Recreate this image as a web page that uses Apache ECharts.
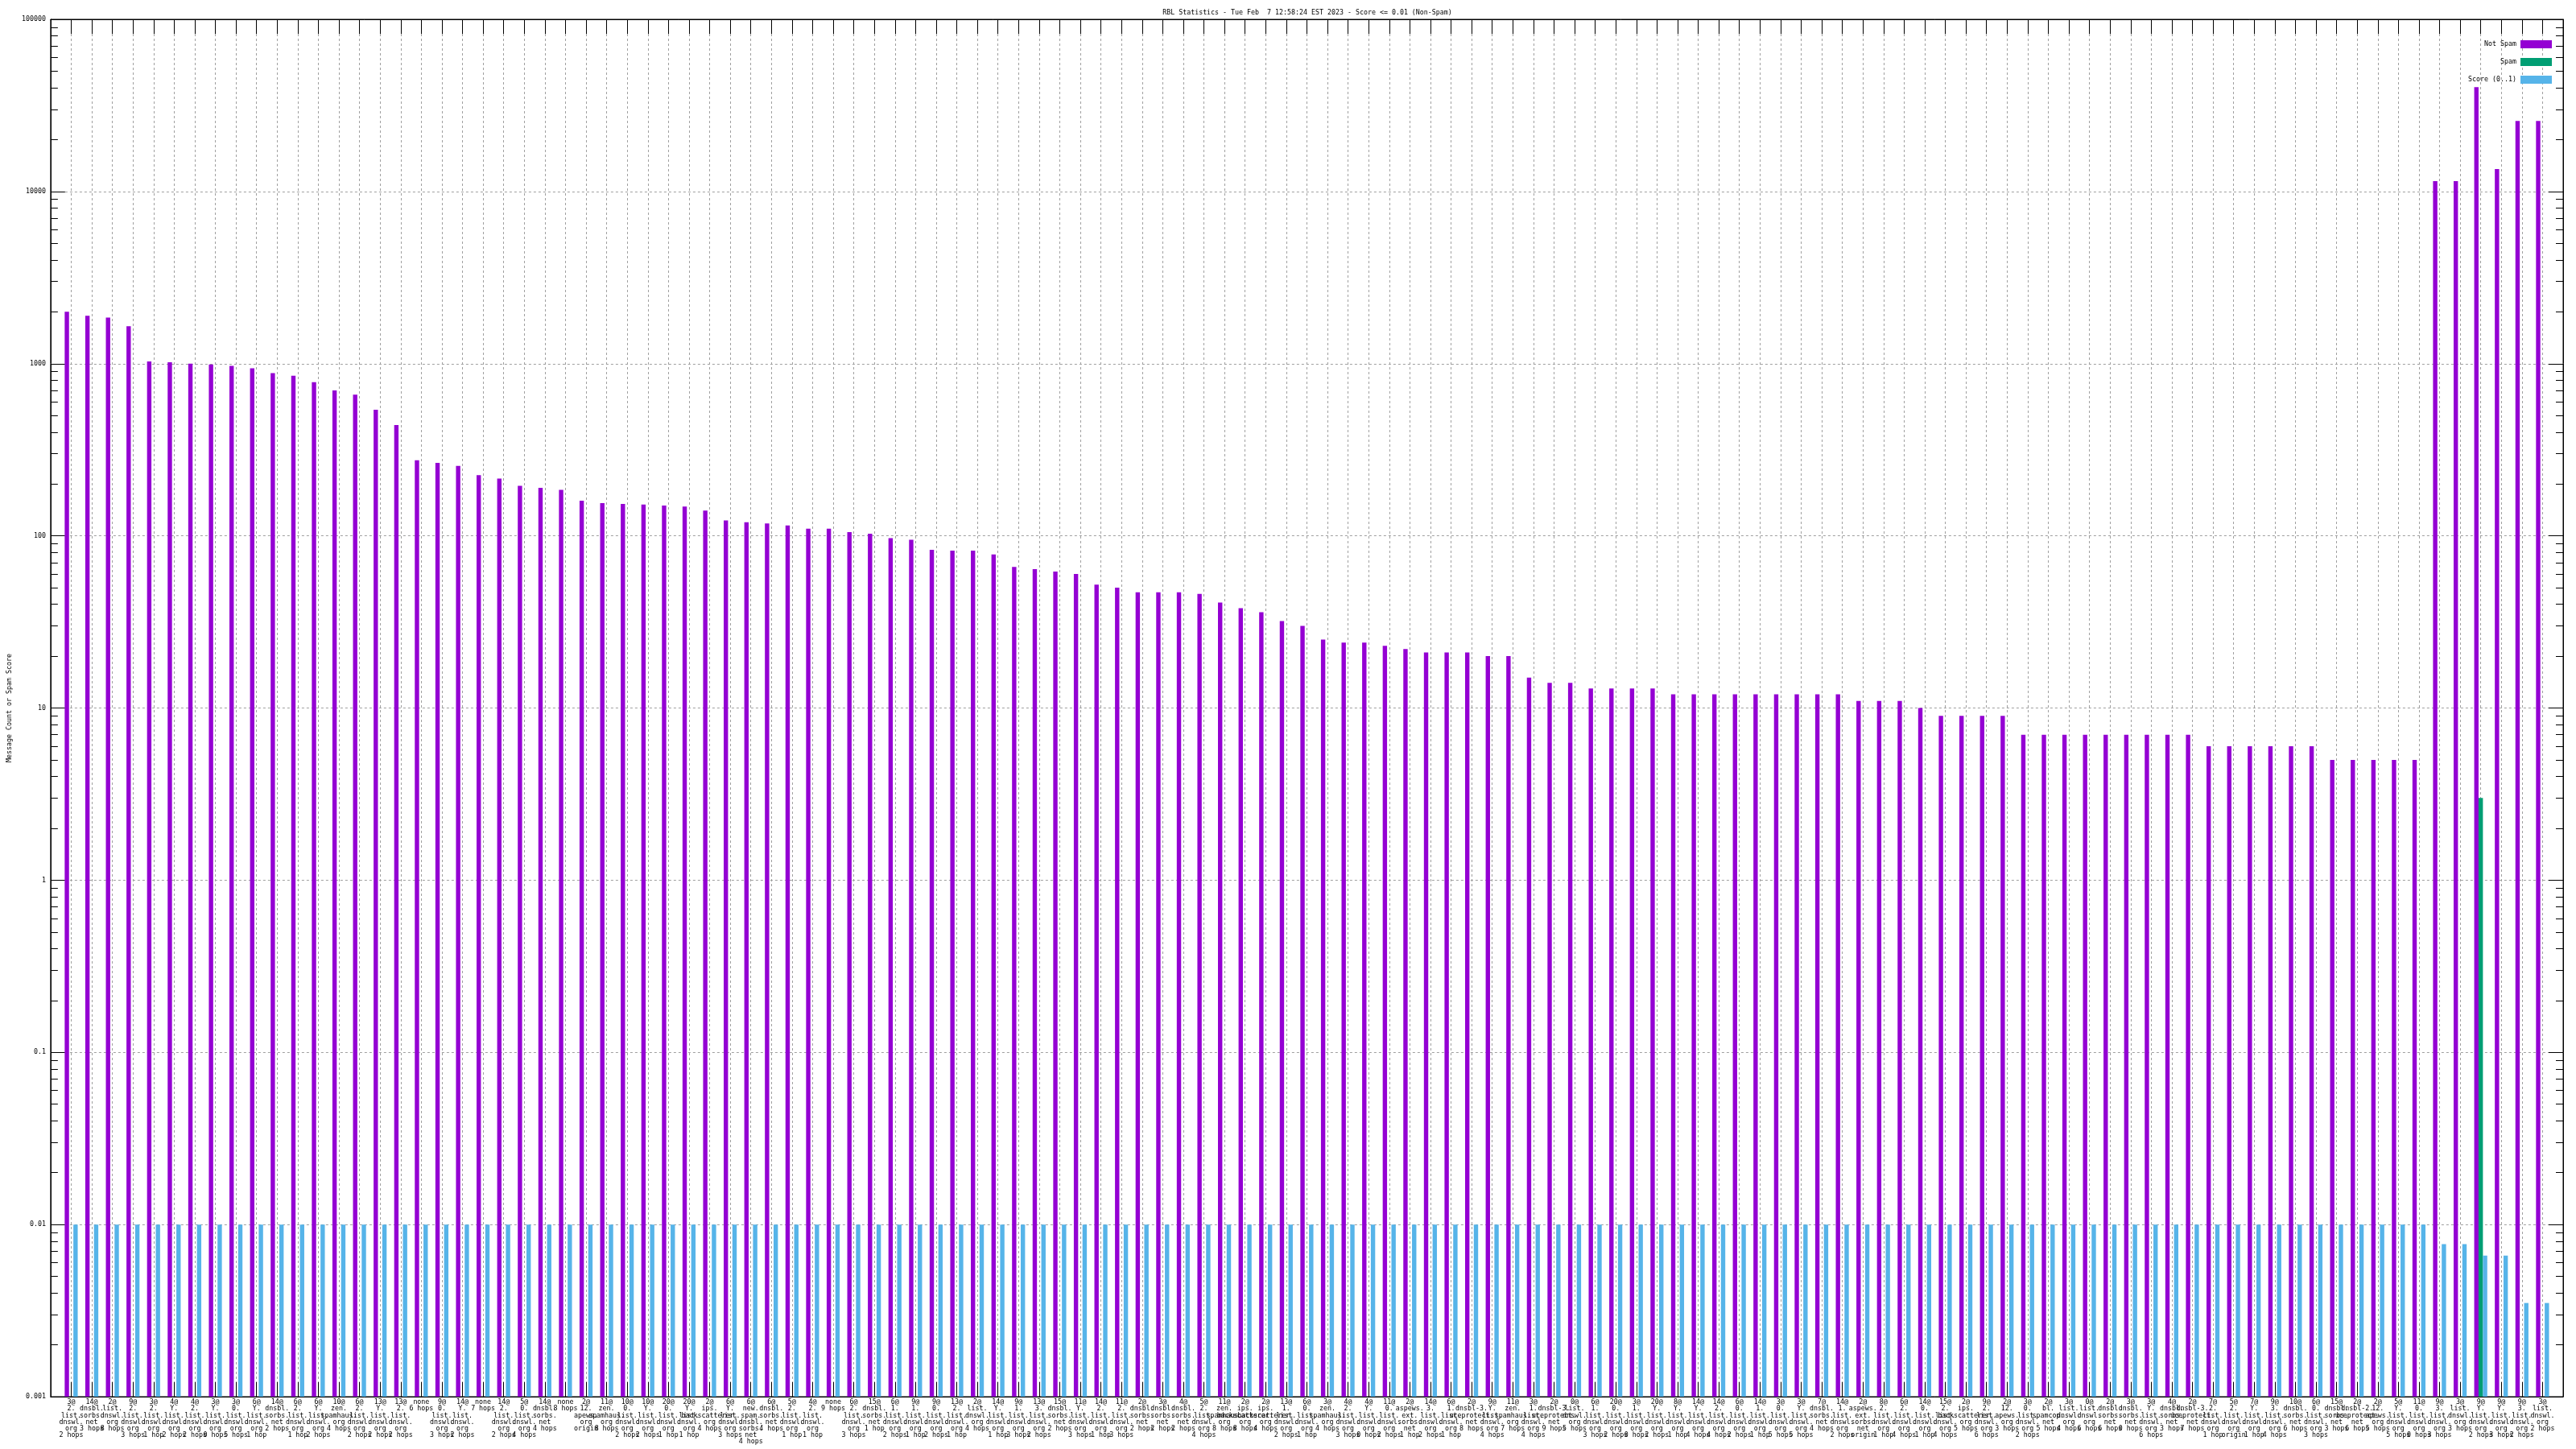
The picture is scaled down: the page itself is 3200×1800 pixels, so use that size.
<!DOCTYPE html>
<html>
<head>
<meta charset="utf-8">
<script src="https://cdn.jsdelivr.net/npm/echarts@6/dist/echarts.min.js"></script>
<style>html,body{margin:0;padding:0;background:#fff}#c{width:3200px;height:1800px}</style>
</head>
<body>
<div id="c"></div>
<script>
const titleText = 'RBL Statistics - Tue Feb  7 12:58:24 EST 2023 - Score <= 0.01 (Non-Spam)';
const yAxisName = 'Message Count or Spam Score';
const yTickLabels = ['0.001', '0.01', '0.1', '1', '10', '100', '1000', '10000', '100000'];
const seriesNames = ['Not Spam', 'Spam', 'Score (0..1)'];

const categories = [
"3@\n2.\nlist.\ndnswl.\norg\n2 hops","14@\ndnsbl.\nsorbs.\nnet\n3 hops","2@\nlist.\ndnswl.\norg\n8 hops","9@\n2.\nlist.\ndnswl.\norg\n3 hops","3@\n2.\nlist.\ndnswl.\norg\n1 hop",
"4@\nY.\nlist.\ndnswl.\norg\n2 hops","4@\n2.\nlist.\ndnswl.\norg\n2 hops","3@\nY.\nlist.\ndnswl.\norg\n0 hops","3@\n0.\nlist.\ndnswl.\norg\n5 hops","6@\nY.\nlist.\ndnswl.\norg\n1 hop",
"14@\ndnsbl.\nsorbs.\nnet\n2 hops","6@\n2.\nlist.\ndnswl.\norg\n1 hop","6@\nY.\nlist.\ndnswl.\norg\n2 hops","10@\nzen.\nspamhaus.\norg\n4 hops","6@\n2.\nlist.\ndnswl.\norg\n2 hops",
"13@\nY.\nlist.\ndnswl.\norg\n2 hops","13@\n2.\nlist.\ndnswl.\norg\n2 hops","none\n6 hops","9@\n0.\nlist.\ndnswl.\norg\n3 hops","14@\nY.\nlist.\ndnswl.\norg\n2 hops",
"none\n7 hops","14@\n2.\nlist.\ndnswl.\norg\n2 hops","5@\n0.\nlist.\ndnswl.\norg\n4 hops","14@\ndnsbl.\nsorbs.\nnet\n4 hops","none\n8 hops",
"2@\n12.\napews.\norg\norigin","11@\nzen.\nspamhaus.\norg\n8 hops","10@\n0.\nlist.\ndnswl.\norg\n2 hops","10@\nY.\nlist.\ndnswl.\norg\n2 hops","20@\n0.\nlist.\ndnswl.\norg\n1 hop",
"20@\nY.\nlist.\ndnswl.\norg\n1 hop","2@\nips.\nbackscatterer.\norg\n4 hops","6@\nY.\nlist.\ndnswl.\norg\n3 hops","6@\nnew.\nspam.\ndnsbl.\nsorbs.\nnet\n4 hops","6@\ndnsbl.\nsorbs.\nnet\n4 hops",
"5@\n2.\nlist.\ndnswl.\norg\n1 hop","4@\n2.\nlist.\ndnswl.\norg\n1 hop","none\n9 hops","6@\n2.\nlist.\ndnswl.\norg\n3 hops","15@\ndnsbl.\nsorbs.\nnet\n1 hop",
"6@\n1.\nlist.\ndnswl.\norg\n2 hops","9@\n1.\nlist.\ndnswl.\norg\n1 hop","9@\n0.\nlist.\ndnswl.\norg\n2 hops","13@\n2.\nlist.\ndnswl.\norg\n1 hop","2@\nlist.\ndnswl.\norg\n4 hops",
"14@\nY.\nlist.\ndnswl.\norg\n1 hop","9@\n1.\nlist.\ndnswl.\norg\n3 hops","13@\n3.\nlist.\ndnswl.\norg\n2 hops","15@\ndnsbl.\nsorbs.\nnet\n2 hops","11@\nY.\nlist.\ndnswl.\norg\n3 hops",
"14@\n2.\nlist.\ndnswl.\norg\n1 hop","11@\n2.\nlist.\ndnswl.\norg\n3 hops","2@\ndnsbl.\nsorbs.\nnet\n2 hops","3@\ndnsbl.\nsorbs.\nnet\n2 hops","4@\ndnsbl.\nsorbs.\nnet\n2 hops",
"5@\n2.\nlist.\ndnswl.\norg\n4 hops","11@\nzen.\nspamhaus.\norg\n8 hops","2@\nips.\nbackscatterer.\norg\n8 hops","2@\nips.\nbackscatterer.\norg\n4 hops","13@\n1.\nlist.\ndnswl.\norg\n2 hops",
"6@\n0.\nlist.\ndnswl.\norg\n1 hop","3@\nzen.\nspamhaus.\norg\n4 hops","4@\n2.\nlist.\ndnswl.\norg\n3 hops","4@\nY.\nlist.\ndnswl.\norg\n0 hops","11@\n0.\nlist.\ndnswl.\norg\n2 hops",
"2@\naspews.\next.\nsorbs.\nnet\n1 hop","14@\n3.\nlist.\ndnswl.\norg\n2 hops","6@\n1.\nlist.\ndnswl.\norg\n1 hop","2@\ndnsbl-3.\nuceprotect.\nnet\n8 hops","9@\nY.\nlist.\ndnswl.\norg\n4 hops",
"11@\nzen.\nspamhaus.\norg\n7 hops","3@\n1.\nlist.\ndnswl.\norg\n4 hops","2@\ndnsbl-3.\nuceprotect.\nnet\n9 hops","0@\nlist.\ndnswl.\norg\n5 hops","6@\n1.\nlist.\ndnswl.\norg\n3 hops",
"20@\n0.\nlist.\ndnswl.\norg\n2 hops","3@\n1.\nlist.\ndnswl.\norg\n0 hops","20@\nY.\nlist.\ndnswl.\norg\n2 hops","8@\nY.\nlist.\ndnswl.\norg\n1 hop","14@\nY.\nlist.\ndnswl.\norg\n4 hops",
"14@\n2.\nlist.\ndnswl.\norg\n4 hops","6@\n0.\nlist.\ndnswl.\norg\n2 hops","14@\n1.\nlist.\ndnswl.\norg\n1 hop","3@\n0.\nlist.\ndnswl.\norg\n5 hops","3@\nY.\nlist.\ndnswl.\norg\n5 hops",
"7@\ndnsbl.\nsorbs.\nnet\n4 hops","14@\n1.\nlist.\ndnswl.\norg\n2 hops","2@\naspews.\next.\nsorbs.\nnet\norigin","8@\n2.\nlist.\ndnswl.\norg\n1 hop","6@\n2.\nlist.\ndnswl.\norg\n4 hops",
"14@\n0.\nlist.\ndnswl.\norg\n1 hop","15@\n2.\nlist.\ndnswl.\norg\n4 hops","2@\nips.\nbackscatterer.\norg\n5 hops","9@\n2.\nlist.\ndnswl.\norg\n6 hops","2@\n12.\napews.\norg\n3 hops",
"3@\n0.\nlist.\ndnswl.\norg\n2 hops","2@\nbl.\nspamcop.\nnet\n5 hops","3@\nlist.\ndnswl.\norg\n4 hops","0@\nlist.\ndnswl.\norg\n6 hops","2@\ndnsbl.\nsorbs.\nnet\n6 hops",
"3@\ndnsbl.\nsorbs.\nnet\n0 hops","3@\nY.\nlist.\ndnswl.\norg\n6 hops","4@\ndnsbl.\nsorbs.\nnet\n3 hops","2@\ndnsbl-3.\nuceprotect.\nnet\n7 hops","7@\n2.\nlist.\ndnswl.\norg\n1 hop",
"5@\n2.\nlist.\ndnswl.\norg\norigin","7@\nY.\nlist.\ndnswl.\norg\n1 hop","9@\n3.\nlist.\ndnswl.\norg\n4 hops","10@\ndnsbl.\nsorbs.\nnet\n6 hops","6@\n0.\nlist.\ndnswl.\norg\n3 hops",
"15@\ndnsbl.\nsorbs.\nnet\n3 hops","2@\ndnsbl-2.\nuceprotect.\nnet\n6 hops","2@\n12.\napews.\norg\n5 hops","5@\nY.\nlist.\ndnswl.\norg\n5 hops","11@\n0.\nlist.\ndnswl.\norg\n0 hops",
"9@\n3.\nlist.\ndnswl.\norg\n3 hops","3@\nlist.\ndnswl.\norg\n3 hops","9@\nY.\nlist.\ndnswl.\norg\n2 hops","9@\nY.\nlist.\ndnswl.\norg\n3 hops","9@\n3.\nlist.\ndnswl.\norg\n2 hops",
"3@\nlist.\ndnswl.\norg\n2 hops"
];

const notSpam = [
2000,1900,1850,1650,1030,1020,1000,990,970,940,880,850,780,700,660,540,440,
275,265,255,225,215,195,190,185,160,155,153,152,150,148,140,123,120,118,115,110,110,105,103,
97,95,83,82,82,78,66,64,62,60,52,50,47,47,47,46,41,38,36,32,30,25,24,24,23,22,21,21,21,20,20,
15,14,14,13,13,13,13,
12,12,12,12,12,12,12,12,12,
11,11,11,
10,
9,9,9,9,
7,7,7,7,7,7,7,7,7,
6,6,6,6,6,6,
5,5,5,5,5,
11500,11500,40400,13500,25700,25700
];

const spam = [];
for (let i = 0; i < 121; i++) spam.push(null);
spam[117] = 3;

const score = [];
for (let i = 0; i < 115; i++) score.push(0.01);
score.push(0.0077, 0.0077, 0.0066, 0.0066, 0.0035, 0.0035);

// ----- build padded data for the chart (xrange -1 .. n) -----
const LOGMIN = -3;
function toAxis(v) { return (v == null || v <= 0) ? '-' : Math.log10(v) - LOGMIN; }
function pad(arr) { return ['-'].concat(arr.map(toAxis), ['-']); }
const cats = [''].concat(categories, ['']);

const FONT = 'DejaVu Sans Mono';
const FS = 8.3;
const GRIDCOL = '#a0a0a0';

const chart = echarts.init(document.getElementById('c'), null, {renderer: 'canvas'});
chart.setOption({
  animation: false,
  backgroundColor: '#ffffff',
  title: {
    text: titleText, left: 1619, top: 7, textAlign: 'center',
    textStyle: {fontFamily: FONT, fontSize: FS, fontWeight: 'normal', color: '#000'}
  },
  legend: {
    data: seriesNames, orient: 'vertical', right: 25, top: 45, align: 'right',
    itemWidth: 39, itemHeight: 10, itemGap: 12, icon: 'rect',
    selectedMode: false,
    textStyle: {fontFamily: FONT, fontSize: FS, color: '#000'}
  },
  grid: {left: 55, right: 16, top: 24, bottom: 65, show: true, borderColor: '#000', borderWidth: 1, containLabel: false},
  xAxis: [{
    type: 'category', data: cats, boundaryGap: false, position: 'bottom',
    axisLine: {show: true, lineStyle: {color: '#000', width: 1}},
    axisTick: {show: true, inside: true, length: 18, interval: 0, lineStyle: {color: '#000', width: 1}},
    axisLabel: {interval: 0, fontFamily: FONT, fontSize: FS, lineHeight: 8.2, color: '#000', margin: 3, align: 'center'},
    splitLine: {show: true, interval: 0, lineStyle: {color: GRIDCOL, type: [3, 3], width: 1}}
  }, {
    type: 'category', data: cats, boundaryGap: false, position: 'top',
    axisLine: {show: true, lineStyle: {color: '#000', width: 1}},
    axisTick: {show: true, inside: true, length: 18, interval: 0, lineStyle: {color: '#000', width: 1}},
    axisLabel: {show: false}, splitLine: {show: false}
  }],
  yAxis: [{
    type: 'log', logBase: 10, min: 0.001, max: 100000, splitNumber: 8, position: 'left',
    name: yAxisName, nameLocation: 'middle', nameRotate: 90, nameGap: 44,
    nameTextStyle: {fontFamily: FONT, fontSize: FS, color: '#000'},
    axisLine: {show: true, lineStyle: {color: '#000', width: 1}},
    axisTick: {show: true, inside: true, length: 18, lineStyle: {color: '#000', width: 1}},
    minorTick: {show: true, splitNumber: 9, length: 9, lineStyle: {color: '#000', width: 1}},
    axisLabel: {fontFamily: FONT, fontSize: FS, color: '#000', margin: 6,
      formatter: function (v) { return yTickLabels[Math.round(Math.log10(v)) - LOGMIN] || ''; }},
    splitLine: {show: true, lineStyle: {color: GRIDCOL, type: [3, 3], width: 1}}
  }, {
    type: 'log', logBase: 10, min: 0.001, max: 100000, splitNumber: 8, position: 'right',
    axisLine: {show: true, lineStyle: {color: '#000', width: 1}},
    axisTick: {show: true, inside: true, length: 18, lineStyle: {color: '#000', width: 1}},
    minorTick: {show: true, splitNumber: 9, length: 9, lineStyle: {color: '#000', width: 1}},
    axisLabel: {show: false}, splitLine: {show: false}
  }, {
    type: 'value', min: 0, max: 8, show: false
  }],
  series: [
    {name: seriesNames[0], type: 'bar', xAxisIndex: 0, yAxisIndex: 2, data: pad(notSpam),
     barWidth: 5.4, barGap: '0%', itemStyle: {color: '#9400d3'}},
    {name: seriesNames[1], type: 'bar', xAxisIndex: 0, yAxisIndex: 2, data: pad(spam),
     barWidth: 5.4, barGap: '0%', itemStyle: {color: '#009e73'}},
    {name: seriesNames[2], type: 'bar', xAxisIndex: 0, yAxisIndex: 2, data: pad(score),
     barWidth: 5.4, barGap: '0%', itemStyle: {color: '#56b4e9'}}
  ]
});
</script>
</body>
</html>
